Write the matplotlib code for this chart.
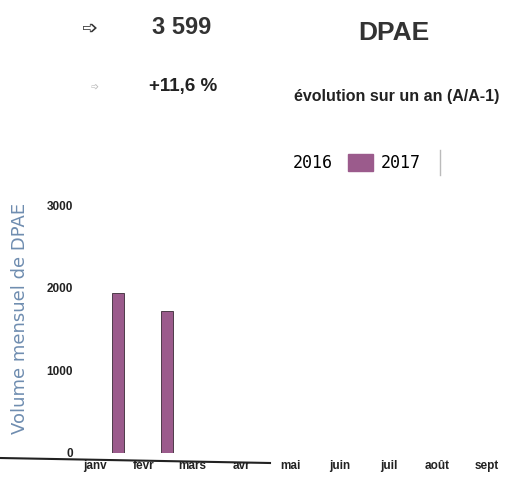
import numpy as np
import matplotlib.pyplot as plt
from matplotlib.patches import Patch
from matplotlib.lines import Line2D

# Data
months = ["janv", "févr", "mars", "avr", "mai", "juin", "juil", "août", "sept"]
dpae_2016 = [0, 0, 0, 0, 0, 0, 0, 0, 0]
dpae_2017 = [1940, 1720, 0, 0, 0, 0, 0, 0, 0]
yticks = [0, 1000, 2000, 3000]
total = "3 599"
evolution = "+11,6 %"

purple = "#9b5b8c"
plt.rcParams["font.family"] = ["Liberation Sans", "DejaVu Sans"]

fig = plt.figure(figsize=(5.07, 4.86), dpi=100)
ax = fig.add_axes([0.158, 0.068, 0.842, 0.51])

x = np.arange(len(months))
ax.bar(x + 0.05, dpae_2016, width=0.25, color="white")
ax.bar(x + 0.47, dpae_2017, width=0.25, color=purple, edgecolor="#3a2a35", linewidth=0.6)

ax.set_xlim(-0.3, 8.42)
ax.set_ylim(0, 3000)
ax.set_xticks(x)
ax.set_xticklabels(months, fontsize=8.5, fontweight="bold", color="#222222")
ax.set_yticks(yticks)
ax.set_yticklabels([str(v) for v in yticks], fontsize=8.5, fontweight="bold", color="#222222")
ax.tick_params(length=0, pad=5)
for s in ax.spines.values():
    s.set_visible(False)

# y axis title placed by hand
fig.text(20 / 507, 1 - 318 / 486, "Volume mensuel de DPAE", rotation=90, fontsize=13,
         color="#6f8db0", ha="center", va="center", family="DejaVu Sans")

# header
fig.text(90 / 507, 1 - 28 / 486, "➩", fontsize=14, ha="center", va="center", color="#333333",
         family="DejaVu Sans")
fig.text(182 / 507, 1 - 28 / 486, total, fontsize=17, fontweight="bold", ha="center", va="center", color="#333333")
fig.text(394 / 507, 1 - 33 / 486, "DPAE", fontsize=19, fontweight="bold", ha="center", va="center", color="#333333")
fig.text(95 / 507, 1 - 87 / 486, "➩", fontsize=7, ha="center", va="center", color="#bbbbbb",
         family="DejaVu Sans")
fig.text(183 / 507, 1 - 87 / 486, evolution, fontsize=13.5, fontweight="bold", ha="center", va="center", color="#222222")
fig.text(397 / 507, 1 - 96 / 486, "évolution sur un an (A/A-1)", fontsize=11.5, fontweight="bold",
         ha="center", va="center", color="#222222")

# legend
handles = [Patch(facecolor="white", edgecolor="white", label="2016"),
           Patch(facecolor=purple, edgecolor=purple, label="2017")]
fig.legend(handles=handles, loc="center", bbox_to_anchor=(340 / 507, 1 - 163 / 486), ncol=2,
           frameon=False, prop={"family": "DejaVu Sans Mono", "size": 12}, handlelength=1.5,
           handleheight=1.2, columnspacing=0.9, handletextpad=0.5)
fig.add_artist(Line2D([440 / 507, 440 / 507], [1 - 150 / 486, 1 - 175 / 486],
                      transform=fig.transFigure, color="#bbbbbb", linewidth=1))

# bottom scan edge line
fig.add_artist(Line2D([0, 270 / 507], [1 - 458 / 486, 1 - 463 / 486],
                      transform=fig.transFigure, color="#222222", linewidth=1.5))

fig.savefig("out.png", dpi=100)
